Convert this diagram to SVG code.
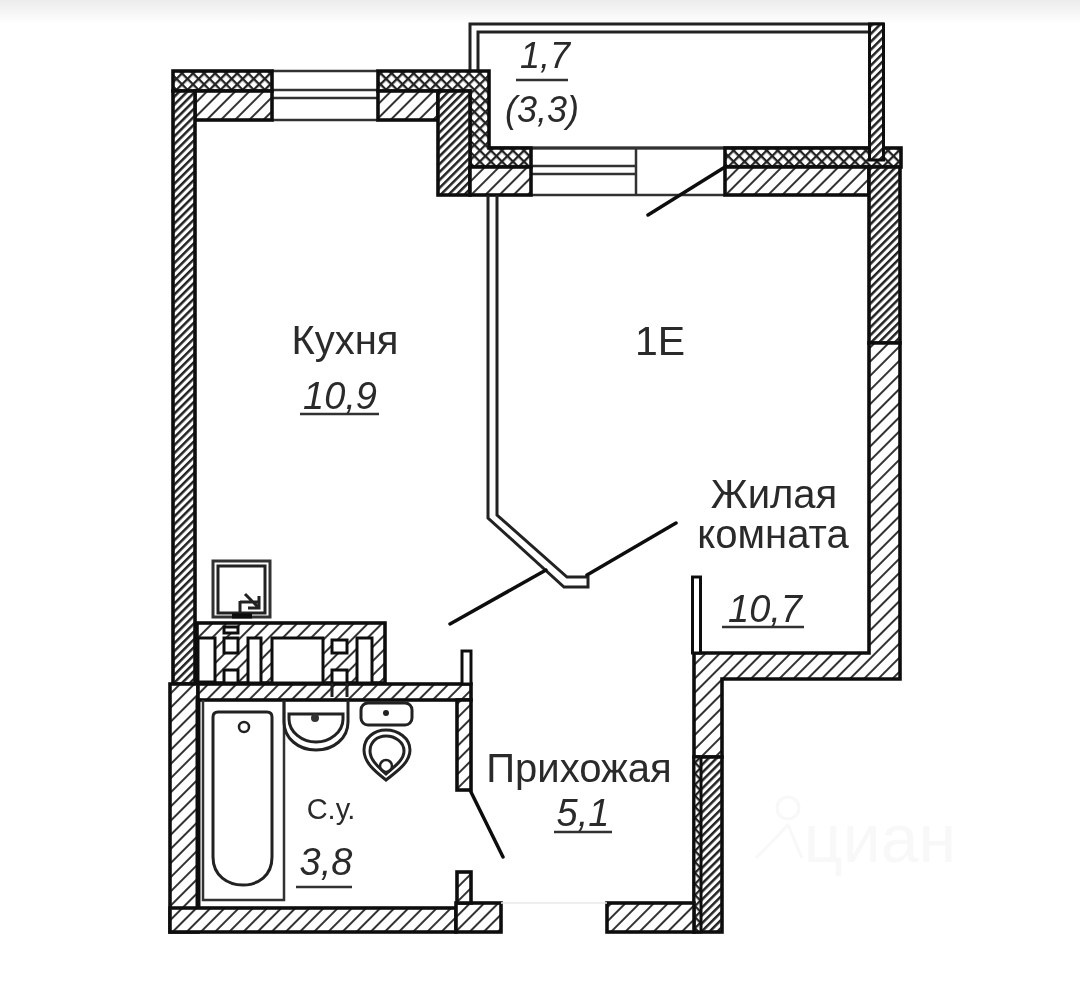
<svg xmlns="http://www.w3.org/2000/svg" width="1080" height="986" viewBox="0 0 1080 986">
<style>
.w{fill:url(#h);stroke:#111;stroke-width:3.6;stroke-linejoin:miter}
.d{fill:url(#hd);stroke:#111;stroke-width:3.6}
.x{fill:url(#c);stroke:#111;stroke-width:3.6}
.l{fill:none;stroke:#222;stroke-width:3}
.t{fill:none;stroke:#333;stroke-width:2.5}
.k{fill:none;stroke:#111;stroke-width:3.5;stroke-linecap:round}
.f{fill:#fff;stroke:#111;stroke-width:3}
text{font-family:"Liberation Sans",Arial,sans-serif;fill:#2a2a2a;font-size:38px;text-anchor:middle}
.i{font-style:italic}
.u{stroke:#333;stroke-width:2.5}
</style>
<defs>
<linearGradient id="top" x1="0" y1="0" x2="0" y2="1"><stop offset="0" stop-color="#ececec"/><stop offset="1" stop-color="#fff"/></linearGradient>
<pattern id="h" width="10" height="10" patternUnits="userSpaceOnUse" patternTransform="rotate(45)"><rect width="10" height="10" fill="#fff"/><rect width="2" height="10" fill="#333"/></pattern>
<pattern id="hd" width="5.6" height="5.6" patternUnits="userSpaceOnUse" patternTransform="rotate(45)"><rect width="5.6" height="5.6" fill="#fff"/><rect width="2.5" height="5.6" fill="#222"/></pattern>
<pattern id="c" width="7.8" height="7.8" patternUnits="userSpaceOnUse" patternTransform="rotate(45)"><rect width="7.8" height="7.8" fill="#fff"/><rect width="2.3" height="7.8" fill="#222"/><rect width="7.8" height="2.3" fill="#222"/></pattern>
<filter id="b" x="-2%" y="-2%" width="104%" height="104%"><feGaussianBlur stdDeviation="0.6"/></filter>
</defs>
<rect width="1080" height="986" fill="#fff"/>
<rect width="1080" height="24" fill="url(#top)"/>
<g id="watermark" fill="none" stroke="#f8f8f8" stroke-width="3"><circle cx="788" cy="808" r="11"/><path d="M756 858 788 825 802 858"/><text x="880" y="862" style="fill:#f8f8f8;stroke:none;font-size:68px">циан</text></g>
<g id="plan" filter="url(#b)">
<g id="balcony">
<path class="l" d="M470 70V24H884"/><path class="l" d="M478 148V32H869"/><path class="l" d="M489 148H869"/>
</g>
<g id="windows">
<path class="t" d="M272 71H378M272 90H378M272 98H378M272 120H378"/>
<path class="t" d="M531 148H725M531 166H636M531 174H636M531 195H725M636 148V195"/>
</g>
<g id="walls">
<rect x="173" y="71" width="99" height="20" class="x"/>
<rect x="195" y="91" width="77" height="29" class="w"/>
<rect x="173" y="91" width="22" height="593" class="d"/>
<path class="x" d="M378 71H489V148H531V167H470V91H378Z"/>
<rect x="378" y="91" width="60" height="29" class="w"/>
<rect x="438" y="91" width="32" height="104" class="d"/>
<rect x="470" y="167" width="61" height="28" class="w"/>
<rect x="725" y="148" width="176" height="19" class="x"/>
<rect x="725" y="167" width="144" height="28" class="w"/>
<rect x="869.500" y="24" width="14" height="136" class="d" style="stroke-width:3"/>
<rect x="869" y="167" width="31" height="176" class="d"/>
<path d="M722 679V757H694V653H869V343H900V679Z" class="w"/>
<rect x="694" y="757" width="28" height="175" class="d"/>
<rect x="694" y="757" width="7" height="175" class="x" style="stroke-width:3"/>
<rect x="692.500" y="577" width="8" height="76" class="f"/>
<rect x="170" y="684" width="28" height="248" class="w"/>
<rect x="170" y="908" width="286" height="24" class="w"/>
<rect x="456" y="903" width="45" height="29" class="w"/>
<rect x="607" y="903" width="87" height="29" class="w"/>
<path d="M501 903H607" stroke="#e8e8e8" stroke-width="1.500"/>
<rect x="457" y="872" width="14" height="31" class="w"/>
<rect x="198" y="684" width="273" height="16" class="w"/>
<rect x="457" y="700" width="14" height="90" class="w"/>
<rect x="462" y="651" width="9" height="33" class="f"/>
<path d="M198 698V908" stroke="#111" stroke-width="5"/>
</g>
<g id="partition">
<path class="l" d="M488 195V518L564 587H588V577H567L497 515V195"/>
<path class="k" d="M450 624 546 570M587 575 676 523M725 167 648 215M470 790 503 857"/>
</g>
<g id="shaft">
<rect x="213" y="561" width="57" height="56" fill="#fff" stroke="#333" stroke-width="3"/>
<rect x="218" y="566" width="47" height="47" fill="#fff" stroke="#222" stroke-width="3"/>
<path class="l" d="M240 601V612M240 602H258M245 594 259 608M259 596V608H248"/>
<path d="M232 616H252" stroke="#111" stroke-width="5"/>
<rect x="197" y="623" width="188" height="60" class="w"/>
<g class="f">
<rect x="198" y="638" width="17" height="44"/>
<rect x="224" y="627" width="14" height="6"/><rect x="224" y="638" width="14" height="15"/><rect x="224" y="670" width="14" height="13"/>
<rect x="248" y="638" width="13" height="45"/>
<rect x="272" y="638" width="51" height="45"/>
<rect x="332" y="640" width="15" height="13"/><rect x="332" y="670" width="15" height="13"/>
<rect x="357" y="638" width="15" height="45"/>
</g>
<path class="l" d="M332 683V697M347 683V697"/>
</g>
<g id="bathtub">
<path class="t" d="M203 700V900H284V700"/>
<path d="M213 857V717Q213 712 218 712H267Q272 712 272 717V857C272 876 258 885 243 885S213 876 213 857Z" fill="none" stroke="#222" stroke-width="3"/>
<circle cx="244" cy="727" r="5" fill="none" stroke="#222" stroke-width="2.500"/>
</g>
<g id="sink">
<path class="l" d="M284 700V722C284 738 298 750 316 750S348 738 348 722V700"/>
<path class="l" d="M289 714H343V719C343 732 330 742 316 742S289 732 289 719Z"/>
<circle cx="315" cy="718" r="4" fill="#333"/>
</g>
<g id="toilet">
<rect x="361" y="703" width="51" height="22" rx="7" class="l"/>
<circle cx="386" cy="713" r="3" fill="#222"/>
<path class="l" d="M386 730C374 730 364 738 364 750C364 763 376 772 386 780C396 772 410 763 410 750C410 738 398 730 386 730Z"/>
<path class="l" d="M386 736C377 736 370 742 370 751C370 761 380 768 386 774C392 768 404 761 404 751C404 742 395 736 386 736Z"/>
<circle cx="386" cy="766" r="6" fill="none" stroke="#222" stroke-width="2.500"/>
</g>
<g id="labels">
<text x="545" y="68" class="i" style="font-size:36px">1,7</text>
<path class="u" d="M516 80H568"/>
<text x="542" y="122" class="i" style="font-size:36px">(3,3)</text>
<text x="345" y="354" style="font-size:40px">Кухня</text>
<text x="340" y="409" class="i">10,9</text>
<path class="u" d="M300 414H379"/>
<text x="660" y="355" style="font-size:41px">1Е</text>
<text x="774" y="508" style="font-size:40px">Жилая</text>
<text x="773" y="548" style="font-size:40px">комната</text>
<text x="765" y="622" class="i">10,7</text>
<path class="u" d="M722 627H804"/>
<text x="579" y="782" style="font-size:40px">Прихожая</text>
<text x="583" y="826" class="i">5,1</text>
<path class="u" d="M554 832H612"/>
<text x="331" y="819" style="font-size:29px">С.у.</text>
<text x="326" y="875" class="i">3,8</text>
<path class="u" d="M296 887H352"/>
</g>
</g>
</svg>
